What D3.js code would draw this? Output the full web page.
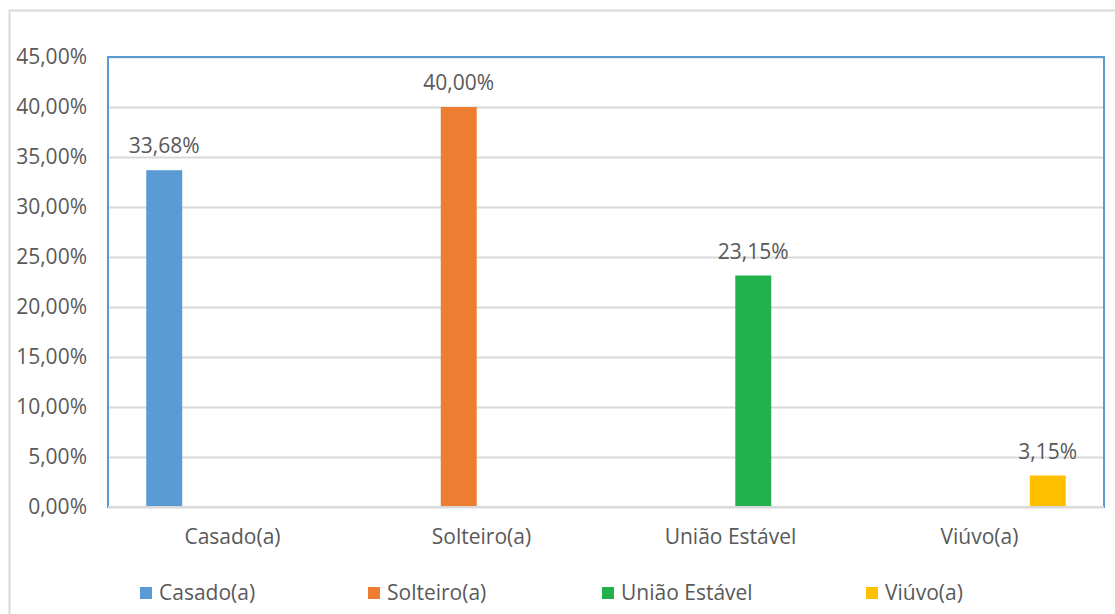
<!DOCTYPE html>
<html>
<head>
<meta charset="utf-8">
<script src="https://cdn.jsdelivr.net/npm/d3@7"></script>
<style>
    body { margin: 0; background: #fff; }
    text { font-family: "Open Sans", sans-serif; fill: #595959; }
</style>
</head>
<body>
<div id="chart"></div>
<script>
// data
const categories = ["Casado(a)", "Solteiro(a)", "União Estável", "Viúvo(a)"];
const series = ["Casado(a)", "Solteiro(a)", "União Estável", "Viúvo(a)"];
const colors = ["#5b9bd5", "#ed7d31", "#22b14c", "#ffc000"];
// one value per series per category (only the matching one is non zero)
const casado = [33.68, 0, 0, 0];
const solteiro = [0, 40.00, 0, 0];
const uniao = [0, 0, 23.15, 0];
const viuvo = [0, 0, 0, 3.15];
const yTicks = [0, 5, 10, 15, 20, 25, 30, 35, 40, 45];

const values = [casado, solteiro, uniao, viuvo];

const W = 1115, H = 614;
const margin = {top: 57, right: 11, bottom: 107, left: 108},
    width = W - margin.left - margin.right,
    height = H - margin.top - margin.bottom;

const svg = d3.select("#chart")
    .append("svg")
    .attr("width", W)
    .attr("height", H);

// outer chart frame
svg.append("rect")
    .attr("x", 9.5).attr("y", 10.5)
    .attr("width", W + 10).attr("height", H + 10)
    .attr("fill", "none")
    .attr("stroke", "#d9d9d9")
    .attr("stroke-width", 2);

const g = svg.append("g")
    .attr("transform", `translate(${margin.left},${margin.top})`);

const fmt = v => v.toFixed(2).replace(".", ",") + "%";

const y = d3.scaleLinear().domain([0, 45]).range([height, 0]);

const x0 = d3.scaleBand().domain(categories).range([0, width]);
const x1 = d3.scaleBand().domain(series)
    .range([0, x0.bandwidth()])
    .paddingInner(0.21)
    .paddingOuter(0.84);

// gridlines
g.append("g")
    .selectAll("line")
    .data(yTicks)
    .enter()
    .append("line")
    .attr("x1", 0).attr("x2", width)
    .attr("y1", d => Math.round(y(d)) + 0.5)
    .attr("y2", d => Math.round(y(d)) + 0.5)
    .attr("stroke", "#d9d9d9")
    .attr("stroke-width", 2);

// plot area border
g.append("rect")
    .attr("x", 0).attr("y", 0)
    .attr("width", width).attr("height", height)
    .attr("fill", "none")
    .attr("stroke", "#5b9bd5")
    .attr("stroke-width", 2);

// y axis labels
const yAxis = g.append("g")
    .call(d3.axisLeft(y).tickValues(yTicks).tickFormat(fmt).tickSize(0).tickPadding(21));
yAxis.select(".domain").remove();
yAxis.selectAll("text")
    .style("font-size", "21px")
    .attr("fill", "#595959")
    .attr("font-family", "Open Sans");

// bars
const rows = [];
categories.forEach((c, i) => {
    series.forEach((s, j) => {
        rows.push({cat: c, ser: s, value: values[j][i], color: colors[j]});
    });
});
const shown = rows.filter(d => d.value > 0);

g.selectAll(".bar")
    .data(shown)
    .enter()
    .append("rect")
    .attr("class", "bar")
    .attr("x", d => x0(d.cat) + x1(d.ser))
    .attr("width", x1.bandwidth())
    .attr("y", d => y(d.value))
    .attr("height", d => height - y(d.value))
    .attr("fill", d => d.color);

// value labels
g.selectAll(".lbl")
    .data(shown)
    .enter()
    .append("text")
    .attr("class", "lbl")
    .attr("x", d => x0(d.cat) + x1(d.ser) + x1.bandwidth() / 2)
    .attr("y", d => y(d.value) - 17)
    .attr("text-anchor", "middle")
    .style("font-size", "21px")
    .text(d => fmt(d.value));

// bottom axis line
g.append("line")
    .attr("x1", 0).attr("x2", width)
    .attr("y1", height).attr("y2", height)
    .attr("stroke", "#d9d9d9")
    .attr("stroke-width", 2);

// category labels
g.selectAll(".cat")
    .data(categories)
    .enter()
    .append("text")
    .attr("class", "cat")
    .attr("x", d => x0(d) + x0.bandwidth() / 2)
    .attr("y", height + 37)
    .attr("text-anchor", "middle")
    .style("font-size", "21px")
    .text(d => d);

// legend
const legendX = [140, 368, 602, 866];
const legend = svg.append("g")
    .selectAll("g")
    .data(series)
    .enter()
    .append("g")
    .attr("transform", (d, i) => `translate(${legendX[i]},587)`);

legend.append("rect")
    .attr("width", 12).attr("height", 12)
    .attr("fill", (d, i) => colors[i]);

legend.append("text")
    .attr("x", 19)
    .attr("y", 13)
    .style("font-size", "21px")
    .text(d => d);
</script>
</body>
</html>
